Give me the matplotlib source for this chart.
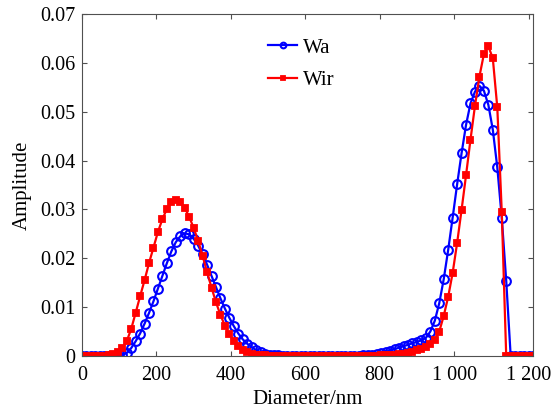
import matplotlib
matplotlib.use("Agg")
import matplotlib.pyplot as plt
from matplotlib.ticker import FixedLocator, FixedFormatter

# diameter grid (nm)
diameter = [0, 12, 24, 36, 48, 60, 72, 84, 96, 108,
            120, 132, 144, 156, 168, 180, 192, 204, 216, 228,
            240, 252, 264, 276, 288, 300, 312, 324, 336, 348,
            360, 372, 384, 396, 408, 420, 432, 444, 456, 468,
            480, 492, 504, 516, 528, 540, 552, 564, 576, 588,
            600, 612, 624, 636, 648, 660, 672, 684, 696, 708,
            720, 732, 744, 756, 768, 780, 792, 804, 816, 828,
            840, 852, 864, 876, 888, 900, 912, 924, 936, 948,
            960, 972, 984, 996, 1008, 1020, 1032, 1044, 1056, 1068,
            1080, 1092, 1104, 1116, 1128, 1140, 1152, 1164, 1176, 1188,
            1200, 1212]

wa = [0, 0, 0, 0, 0, 0, 0, 0, 0, 0.0002,
      0.0006, 0.0016, 0.0030, 0.0046, 0.0066, 0.0088, 0.0112, 0.0138, 0.0164, 0.0190,
      0.0214, 0.0233, 0.0245, 0.0251, 0.0249, 0.0240, 0.0226, 0.0208, 0.0187, 0.0164,
      0.0141, 0.0118, 0.0097, 0.0078, 0.0061, 0.0046, 0.0034, 0.0025, 0.0018, 0.0012,
      0.0008, 0.0005, 0.0003, 0.0002, 0.0001, 0, 0, 0, 0, 0,
      0, 0, 0, 0, 0, 0, 0, 0, 0, 0,
      0, 0, 0, 0.0001, 0.0002, 0.0003, 0.0005, 0.0007, 0.0009, 0.0011,
      0.0014, 0.0017, 0.0020, 0.0023, 0.0026, 0.0029, 0.0032, 0.0037, 0.0050, 0.0072,
      0.0108, 0.0157, 0.0217, 0.0283, 0.0351, 0.0415, 0.0473, 0.0517, 0.0541, 0.0553,
      0.0543, 0.0514, 0.0463, 0.0386, 0.0283, 0.0154, 0, 0, 0, 0,
      0, 0]

wir = [0, 0, 0, 0, 0, 0, 0.0002, 0.0004, 0.0008, 0.0016,
       0.0030, 0.0055, 0.0088, 0.0122, 0.0155, 0.0190, 0.0222, 0.0254, 0.0280, 0.0301,
       0.0315, 0.0320, 0.0315, 0.0303, 0.0285, 0.0262, 0.0236, 0.0205, 0.0172, 0.0140,
       0.0110, 0.0084, 0.0062, 0.0044, 0.0030, 0.0020, 0.0013, 0.0008, 0.0005, 0.0003,
       0.0002, 0.0001, 0, 0, 0, 0, 0, 0, 0, 0,
       0, 0, 0, 0, 0, 0, 0, 0, 0, 0,
       0, 0, 0, 0, 0, 0, 0, 0.0001, 0.0001, 0.0002,
       0.0003, 0.0004, 0.0005, 0.0007, 0.0009, 0.0012, 0.0015, 0.0019, 0.0025, 0.0033,
       0.0050, 0.0082, 0.0121, 0.0170, 0.0231, 0.0299, 0.0370, 0.0443, 0.0512, 0.0572,
       0.0618, 0.0634, 0.0609, 0.0509, 0.0295, 0, 0, 0, 0, 0,
       0, 0]

x_ticks = [0, 200, 400, 600, 800, 1000, 1200]
x_labels = ["0", "200", "400", "600", "800", "1 000", "1 200"]
y_ticks = [0, 0.01, 0.02, 0.03, 0.04, 0.05, 0.06, 0.07]
y_labels = ["0", "0.01", "0.02", "0.03", "0.04", "0.05", "0.06", "0.07"]

plt.rcParams['font.family'] = ['Liberation Serif', 'DejaVu Serif']

fig = plt.figure(figsize=(5.52, 4.15), dpi=100)
ax = fig.add_axes([0.1486, 0.1422, 0.8170, 0.8241])

ax.plot(diameter, wa, color=(0, 0, 1), lw=1.6, marker='o', ms=6.3,
        mfc='none', mec=(0, 0, 1), mew=1.5, label='Wa')
ax.plot(diameter, wir, color=(1, 0, 0), lw=1.6, marker='s', ms=4.8,
        mfc=(1, 0, 0), mec=(1, 0, 0), mew=1.3, label='Wir')

ax.set_xlim(0, 1212)
ax.set_ylim(0, 0.07)
ax.xaxis.set_major_locator(FixedLocator(x_ticks))
ax.xaxis.set_major_formatter(FixedFormatter(x_labels))
ax.yaxis.set_major_locator(FixedLocator(y_ticks))
ax.yaxis.set_major_formatter(FixedFormatter(y_labels))
ax.tick_params(axis='x', pad=7)
ax.tick_params(axis='y', pad=5)
ax.tick_params(direction='in', length=3.5, width=0.8, color='#505050',
               top=True, right=True, labelsize=14.5)
for s in ax.spines.values():
    s.set_color('#505050')
    s.set_linewidth(0.8)

ax.set_xlabel("Diameter/nm", fontsize=15, labelpad=4)
ax.set_ylabel("Amplitude", fontsize=15, labelpad=6)

leg = ax.legend(loc='upper left', bbox_to_anchor=(0.413, 0.930), frameon=False,
                fontsize=15, handlelength=1.4, handletextpad=0.25,
                labelspacing=0.64, borderpad=0, borderaxespad=0, markerscale=0.65)

fig.savefig("out.png", dpi=100)
